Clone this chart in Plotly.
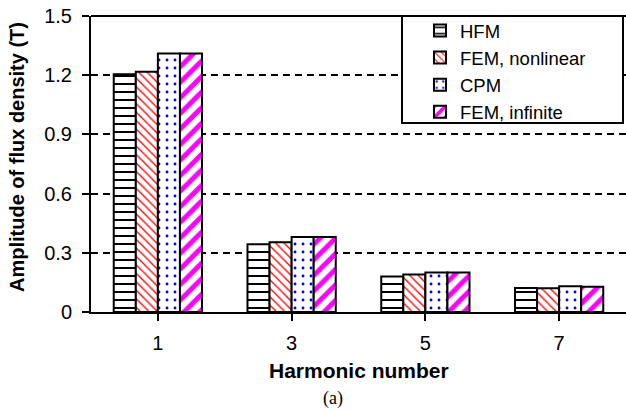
import plotly.graph_objects as go

harmonics = ["1", "3", "5", "7"]
hfm = [1.205, 0.343, 0.18, 0.122]
fem_nonlinear = [1.217, 0.354, 0.19, 0.12]
cpm = [1.31, 0.38, 0.20, 0.13]
fem_infinite = [1.31, 0.38, 0.20, 0.128]
y_ticks = [0, 0.3, 0.6, 0.9, 1.2, 1.5]
y_tick_labels = ["0", "0.3", "0.6", "0.9", "1.2", "1.5"]

W, H = 626, 411
L, R, T, B = 91, 0, 16, 99
pw, ph = W - L - R, H - T - B

def px_x(x):
    return (x - L) / pw

def px_y(y):
    return (H - B - y) / ph

series = [
    ("HFM", hfm, dict(shape="-", fgcolor="black", size=8, solidity=0.25)),
    ("FEM, nonlinear", fem_nonlinear, dict(shape="\\", fgcolor="red", size=6, solidity=0.22)),
    ("CPM", cpm, dict(shape=".", fgcolor="blue", size=8, solidity=0.1)),
    ("FEM, infinite", fem_infinite, dict(shape="/", fgcolor="#FF00FF", size=11, solidity=0.45)),
]

fig = go.Figure()
for name, vals, pat in series:
    fig.add_trace(go.Bar(
        x=harmonics, y=vals, name=name,
        marker=dict(color="white", line=dict(color="black", width=2),
                    pattern=dict(bgcolor="white", fgopacity=1, **pat)),
    ))

font = "Arial, Liberation Sans, sans-serif"
fig.update_layout(
    width=W, height=H,
    margin=dict(l=L, r=R, t=T, b=B, pad=0),
    paper_bgcolor="white", plot_bgcolor="white",
    barmode="group", bargap=0.34, bargroupgap=0,
    font=dict(family=font, size=20, color="black"),
    showlegend=True,
    legend=dict(x=px_x(420), y=px_y(12), xanchor="left", yanchor="top",
                bgcolor="rgba(0,0,0,0)", borderwidth=0,
                font=dict(size=18.5, family=font)),
    xaxis=dict(type="category", showline=True, linecolor="black", linewidth=2,
               ticks="outside", ticklen=7, tickwidth=2, tickcolor="black",
               ticklabelstandoff=5,
               showgrid=False, tickfont=dict(size=20)),
    yaxis=dict(range=[0, 1.5], tickvals=y_ticks, ticktext=y_tick_labels,
               showline=True, linecolor="black", linewidth=2,
               ticks="outside", ticklen=7, tickwidth=2, tickcolor="black",
               ticklabelstandoff=6,
               showgrid=True, gridcolor="black", gridwidth=2, griddash="7px,5px",
               zeroline=False, tickfont=dict(size=20)),
    shapes=[
        dict(type="rect", xref="paper", yref="paper",
             x0=px_x(402), x1=px_x(623), y0=px_y(123), y1=1,
             fillcolor="white", line=dict(color="black", width=2), layer="above"),
        dict(type="line", xref="paper", yref="paper", x0=0, x1=1, y0=1, y1=1,
             line=dict(color="black", width=2), layer="above"),
    ],
    annotations=[
        dict(text="<b>Amplitude of flux density (T)</b>", textangle=-90,
             xref="paper", yref="paper", x=px_x(17), y=px_y(157),
             xanchor="center", yanchor="middle", showarrow=False,
             font=dict(size=20, family=font)),
        dict(text="<b>Harmonic number</b>", xref="paper", yref="paper",
             x=px_x(359), y=px_y(370), xanchor="center", yanchor="middle",
             showarrow=False, font=dict(size=21, family=font)),
        dict(text="(a)", xref="paper", yref="paper",
             x=px_x(333), y=px_y(398), xanchor="center", yanchor="middle",
             showarrow=False, font=dict(size=18, family="Times New Roman, Liberation Serif, serif")),
    ],
)

fig.write_html("out.html", config={"displayModeBar": False},
               post_script="document.body.style.margin='0';document.body.style.overflow='hidden';")
